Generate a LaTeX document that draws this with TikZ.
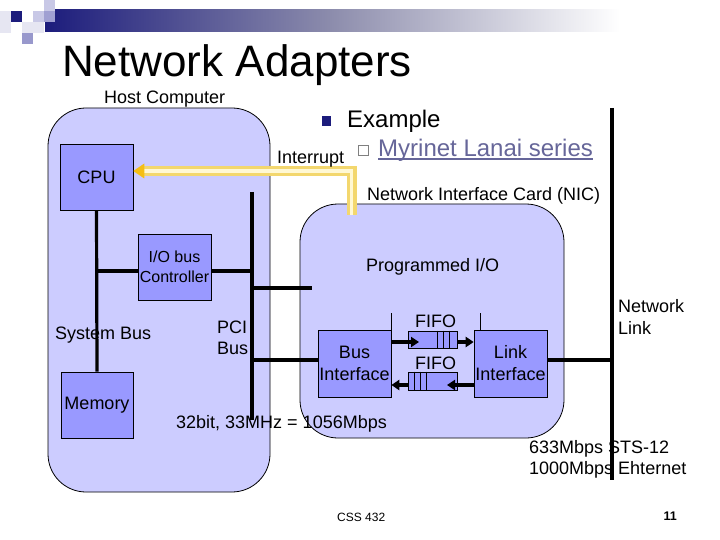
\documentclass[tikz,border=0pt]{standalone}
\usepackage{fontspec}
\setmainfont{Liberation Sans}
\usetikzlibrary{arrows.meta}
\definecolor{navy}{RGB}{28,28,124}
\definecolor{barmid}{RGB}{140,140,172}
\definecolor{hostfill}{RGB}{204,204,255}
\definecolor{boxfill}{RGB}{153,153,255}
\definecolor{intyel}{RGB}{243,215,110}
\definecolor{intpale}{RGB}{255,248,212}
\definecolor{intarrow}{RGB}{245,190,20}
\definecolor{linkcol}{RGB}{102,102,153}
\definecolor{sqA}{RGB}{230,230,242}
\definecolor{sqC}{RGB}{200,200,230}
\definecolor{sqE}{RGB}{160,160,210}
\definecolor{sqG}{RGB}{152,152,204}
\begin{document}
\begin{tikzpicture}[x=1pt,y=-1pt,
  region/.style={draw=black, line width=0.8pt, fill=hostfill, rounded corners=38pt, inner sep=0pt},
  blk/.style={draw=black, line width=0.6pt, fill=boxfill, inner sep=0pt, align=center,
              minimum width=73pt, minimum height=66pt, font=\fontsize{18}{22}\selectfont},
  fifobox/.style={draw=black, line width=0.6pt, fill=boxfill, inner sep=0pt, minimum width=49pt},
  lbl/.style={inner sep=0pt, anchor=base west, font=\fontsize{18}{22}\selectfont},
  bus/.style={line width=3.2pt, draw=black},
  fat/.style={line width=4pt, -{Triangle[length=8pt,width=10pt]}},
  thinline/.style={line width=0.6pt, draw=black}]
\useasboundingbox (0,0) rectangle (720,540);
\fill[white] (0,0) rectangle (720,540);
% header decoration
\shade[left color=navy, right color=barmid] (45,10) rectangle (330.5,32);
\shade[left color=barmid, right color=white] (330,10) rectangle (620,32);
\fill[sqA] (0,11) rectangle (11,22);
\fill[sqA] (0,22) rectangle (11,33);
\fill[navy] (11,11) rectangle (22,22);
\fill[sqC] (33,11) rectangle (44,22);
\fill[sqC] (44,0) rectangle (55,11);
\fill[sqE] (44,11) rectangle (55,22);
\fill[sqA] (22,22) rectangle (44,33);
\fill[sqG] (22,33) rectangle (33,44);
% title
\node[inner sep=0pt, anchor=base west, font=\fontsize{44}{50}\selectfont] (title) at (62,77) {Network Adapters};
% regions
\node[region, minimum width=222pt, minimum height=384pt] (host) at (159,300) {};
\node[region, minimum width=264pt, minimum height=234pt] (nic) at (432,321) {};
% boxes
\node[blk] (cpu) at (96.5,177) {CPU};
\node[blk, font=\fontsize{16}{20}\selectfont] (ioc) at (174.5,267) {I/O bus\\Controller};
\node[blk, minimum width=72pt] (mem) at (97,405) {Memory};
\node[blk, minimum height=67pt] (bi) at (354.5,363.5) {Bus\\Interface};
\node[blk, minimum height=67pt] (li) at (510.5,363.5) {Link\\Interface};
% coordinates for buses
\coordinate (pciTop) at (252,192);
\coordinate (pciBot) at (252,420);
\coordinate (sysJ) at (97,271);
\coordinate (pciJ) at (252,271);
\coordinate (stubA) at (252,288);
\coordinate (stubB) at (312,288);
\coordinate (pciNic) at (252,360);
\coordinate (linkTop) at (612,108);
\coordinate (linkBot) at (612,480);
\coordinate (linkJ) at (612,360);
% buses
\draw[bus] (cpu.south) -- (mem.north);
\draw[bus] (sysJ) -- (ioc.west |- sysJ);
\draw[bus] (ioc.east |- pciJ) -- (pciJ);
\draw[bus] (pciTop) -- (pciBot);
\draw[bus] (stubA) -- (stubB);
\draw[bus] (pciNic) -- (bi.west |- pciNic);
\draw[bus] (li.east |- linkJ) -- (linkJ);
\draw[bus] (linkTop) -- (linkBot);
% interrupt
\coordinate (intS) at (351.5,215);
\coordinate (intC) at (351.5,171);
\coordinate (intE) at (141,171);
\draw[line width=10pt, draw=intyel, line join=miter] (intS) -- (intC) -- (intE);
\draw[line width=3.5pt, draw=intpale, line join=miter] (intS) -- (intC) -- (intE);
\fill[intarrow] (cpu.east |- intE) -- ++(11,-7.5) -- ++(0,15) -- cycle;
% FIFOs
\node[fifobox, minimum height=17pt] (f1) at (432.5,339.5) {};
\node[fifobox, minimum height=18pt] (f2) at (432.5,381) {};
\foreach \d in {30,36,42} \draw[thinline] ([xshift=\d pt]f1.north west) -- ([xshift=\d pt]f1.south west);
\foreach \d in {7,13,19} \draw[thinline] ([xshift=\d pt]f2.north west) -- ([xshift=\d pt]f2.south west);
\draw[thinline] (bi.north east) -- ++(0,-17);
\draw[thinline] ([xshift=7pt]li.north west) -- ++(0,-17);
% arrows
\coordinate (a1) at (391,342);
\coordinate (a2) at (419,342);
\coordinate (b1) at (474,385);
\coordinate (b2) at (447,385);
\draw[fat] (bi.east |- a1) -- (a2);
\draw[fat] (f1.east |- a1) -- (li.west |- a1);
\draw[fat] (li.west |- b1) -- (b2);
\draw[fat] (f2.west |- b1) -- (bi.east |- b1);
% labels
\node[lbl] (hostlbl) at (104,104) {Host Computer};
\node[lbl] (intlbl) at (277,164) {Interrupt};
\node[lbl] (niclbl) at (367,201) {Network Interface Card (NIC)};
\node[lbl] (piolbl) at (366,271) {Programmed I/O};
\node[lbl] (sysbus) at (55,339) {System Bus};
\node[lbl] (pci1) at (217,333) {PCI};
\node[lbl] (pci2) at (217,354) {Bus};
\node[lbl] (speed) at (176,428) {32bit, 33MHz = 1056Mbps};
\node[lbl] (fifo1) at (415,327) {FIFO};
\node[lbl] (fifo2) at (415,369) {FIFO};
\node[lbl] (net1) at (618,312) {Network};
\node[lbl] (net2) at (618,334) {Link};
\node[lbl] (sts) at (529,453) {633Mbps STS-12};
\node[lbl] (eth) at (529,474) {1000Mbps Ehternet};
% bullets
\fill[navy] (322,116) rectangle (331,126);
\node[inner sep=0pt, anchor=base west, font=\fontsize{24}{28}\selectfont] (ex) at (347,128) {Example};
\draw[gray, line width=0.8pt] (358,145) rectangle (368,155);
\node[inner sep=0pt, anchor=base west, text=linkcol, font=\fontsize{24}{28}\selectfont] (myr) at (378,157) {Myrinet Lanai series};
\draw[linkcol, line width=1.3pt] ([yshift=-2pt]myr.base west) -- ([yshift=-2pt]myr.base east);
% footer
\node[inner sep=0pt, anchor=base west, font=\fontsize{12}{14}\selectfont] (css) at (337,521) {CSS 432};
\node[inner sep=0pt, anchor=base east, font=\fontsize{12.5}{14}\selectfont\bfseries] (pg) at (677,520) {11};
\end{tikzpicture}
\end{document}
